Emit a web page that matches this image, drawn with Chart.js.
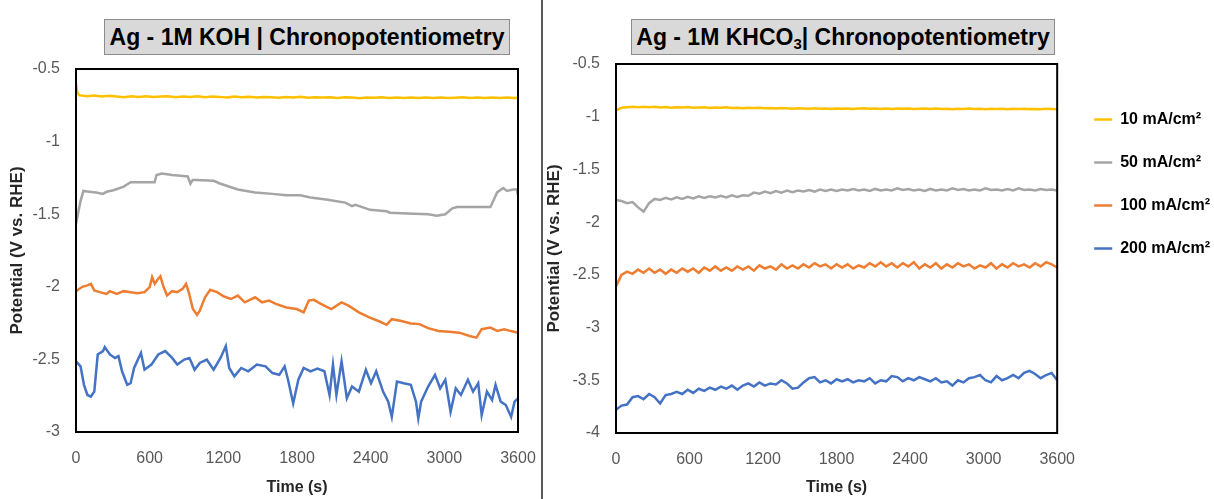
<!DOCTYPE html>
<html>
<head>
<meta charset="utf-8">
<script src="https://cdn.jsdelivr.net/npm/chart.js@4.4.1/dist/chart.umd.min.js"></script>
<style>
  body { margin: 0; width: 1214px; height: 499px; overflow: hidden; background: #fff; position: relative; font-family: "Liberation Sans", Arial, sans-serif; }
  .pane { position: absolute; top: 0; }
  .pane canvas { display: block; }
  .title { position: absolute; top: 19px; height: 36px; box-sizing: border-box; background: #d9d9d9; border: 1px solid #8c8c8c; font-weight: bold; font-size: 23px; line-height: 34px; text-align: center; color: #000; white-space: nowrap; }
  .title sub { font-size: 15px; line-height: 0; vertical-align: -4px; }
  #divider { position: absolute; left: 541px; top: 0; width: 2px; height: 499px; background: #595959; }
</style>
</head>
<body>
<div class="pane" style="left:0"><canvas id="koh" width="541" height="499"></canvas></div>
<div class="pane" style="left:541px"><canvas id="khco3" width="679" height="499"></canvas></div>
<div id="divider"></div>
<div class="title" style="left:104px;width:406px">Ag - 1M KOH | Chronopotentiometry</div>
<div class="title" style="left:631px;width:424px">Ag - 1M KHCO<sub>3</sub>| Chronopotentiometry</div>
<script>
var colors = ['#FFC000', '#A5A5A5', '#ED7D31', '#4472C4'];
var seriesLabels = ['10 mA/cm²', '50 mA/cm²', '100 mA/cm²', '200 mA/cm²'];
var timeTicks = [0, 600, 1200, 1800, 2400, 3000, 3600];

// ---- Ag - 1M KOH (left chart) ----
var kohTime10 = [0, 10, 25, 45, 90, 150, 210, 270, 330, 390, 450, 510, 570, 630, 690, 750, 810, 870, 930, 990, 1050, 1110, 1170, 1230, 1290, 1350, 1410, 1470, 1530, 1590, 1650, 1710, 1770, 1830, 1890, 1950, 2010, 2070, 2130, 2190, 2250, 2310, 2370, 2430, 2490, 2550, 2610, 2670, 2730, 2790, 2850, 2910, 2970, 3030, 3090, 3150, 3210, 3270, 3330, 3390, 3450, 3510, 3570, 3600];
var kohPot10 = [-0.60, -0.66, -0.68, -0.683, -0.688, -0.682, -0.69, -0.685, -0.69, -0.695, -0.688, -0.692, -0.687, -0.693, -0.69, -0.688, -0.695, -0.69, -0.693, -0.688, -0.694, -0.69, -0.692, -0.697, -0.69, -0.695, -0.692, -0.697, -0.693, -0.695, -0.698, -0.693, -0.696, -0.692, -0.698, -0.694, -0.697, -0.695, -0.699, -0.694, -0.697, -0.701, -0.696, -0.698, -0.695, -0.7, -0.697, -0.699, -0.696, -0.7, -0.697, -0.699, -0.696, -0.7, -0.698, -0.695, -0.699, -0.697, -0.7, -0.696, -0.699, -0.697, -0.7, -0.698];

var kohTime50 = [0, 20, 37, 60, 107, 163, 220, 250, 304, 389, 445, 501, 600, 640, 656, 700, 783, 850, 910, 932, 950, 980, 1121, 1177, 1318, 1459, 1600, 1713, 1825, 1910, 2051, 2192, 2248, 2276, 2361, 2395, 2530, 2558, 2700, 2868, 2938, 3008, 3065, 3103, 3375, 3403, 3430, 3479, 3510, 3560, 3590, 3600];
var kohPot50 = [-1.57, -1.48, -1.41, -1.34, -1.345, -1.35, -1.36, -1.345, -1.335, -1.31, -1.28, -1.28, -1.28, -1.28, -1.23, -1.22, -1.23, -1.235, -1.24, -1.29, -1.265, -1.265, -1.27, -1.29, -1.33, -1.35, -1.36, -1.37, -1.37, -1.385, -1.40, -1.42, -1.445, -1.435, -1.46, -1.47, -1.48, -1.49, -1.495, -1.50, -1.51, -1.50, -1.46, -1.45, -1.45, -1.40, -1.35, -1.32, -1.34, -1.33, -1.33, -1.37];

var kohTime100 = [0, 51, 93, 121, 149, 192, 248, 276, 332, 389, 445, 501, 558, 600, 620, 642, 670, 687, 713, 741, 783, 825, 868, 896, 918, 952, 986, 1008, 1051, 1093, 1149, 1206, 1262, 1318, 1375, 1459, 1515, 1572, 1628, 1713, 1797, 1854, 1896, 1938, 1994, 2079, 2163, 2220, 2304, 2389, 2473, 2530, 2572, 2642, 2727, 2797, 2868, 2952, 3037, 3121, 3206, 3262, 3304, 3375, 3431, 3487, 3544, 3600];
var kohPot100 = [-2.03, -2.0, -1.99, -1.98, -2.025, -2.037, -2.049, -2.03, -2.049, -2.03, -2.037, -2.044, -2.037, -2.002, -1.933, -1.98, -1.944, -1.928, -2.0, -2.06, -2.03, -2.037, -2.014, -1.979, -2.037, -2.153, -2.193, -2.165, -2.072, -2.021, -2.037, -2.067, -2.084, -2.06, -2.107, -2.072, -2.107, -2.095, -2.118, -2.142, -2.153, -2.176, -2.095, -2.09, -2.118, -2.153, -2.107, -2.13, -2.176, -2.211, -2.239, -2.262, -2.223, -2.234, -2.253, -2.257, -2.285, -2.304, -2.309, -2.316, -2.339, -2.35, -2.292, -2.281, -2.304, -2.292, -2.305, -2.316];

var kohTime200 = [0, 37, 65, 93, 121, 149, 177, 220, 234, 276, 318, 346, 375, 417, 445, 473, 529, 558, 614, 670, 727, 783, 825, 882, 924, 966, 1008, 1065, 1121, 1177, 1220, 1248, 1290, 1346, 1403, 1473, 1544, 1600, 1656, 1699, 1727, 1769, 1811, 1854, 1910, 1966, 2023, 2065, 2093, 2121, 2163, 2206, 2248, 2304, 2361, 2403, 2445, 2501, 2543, 2572, 2614, 2670, 2727, 2769, 2788, 2811, 2868, 2924, 2966, 3008, 3051, 3093, 3135, 3192, 3234, 3276, 3304, 3347, 3389, 3417, 3459, 3501, 3544, 3572, 3600];
var kohPot200 = [-2.513, -2.548, -2.675, -2.745, -2.756, -2.722, -2.466, -2.443, -2.415, -2.466, -2.49, -2.478, -2.582, -2.675, -2.664, -2.559, -2.455, -2.571, -2.536, -2.466, -2.443, -2.49, -2.536, -2.501, -2.49, -2.571, -2.524, -2.501, -2.571, -2.49, -2.408, -2.559, -2.617, -2.559, -2.582, -2.536, -2.548, -2.594, -2.606, -2.548, -2.64, -2.803, -2.64, -2.559, -2.582, -2.564, -2.582, -2.745, -2.536, -2.745, -2.513, -2.768, -2.687, -2.722, -2.571, -2.664, -2.582, -2.722, -2.791, -2.896, -2.652, -2.664, -2.675, -2.791, -2.907, -2.791, -2.687, -2.606, -2.699, -2.64, -2.861, -2.699, -2.745, -2.64, -2.722, -2.664, -2.884, -2.722, -2.78, -2.675, -2.791, -2.814, -2.896, -2.791, -2.768];

// ---- Ag - 1M KHCO3 (right chart), one reading every 45 s ----
var khco3Time = [0, 45, 90, 135, 180, 225, 270, 315, 360, 405, 450, 495, 540, 585, 630, 675, 720, 765, 810, 855, 900, 945, 990, 1035, 1080, 1125, 1170, 1215, 1260, 1305, 1350, 1395, 1440, 1485, 1530, 1575, 1620, 1665, 1710, 1755, 1800, 1845, 1890, 1935, 1980, 2025, 2070, 2115, 2160, 2205, 2250, 2295, 2340, 2385, 2430, 2475, 2520, 2565, 2610, 2655, 2700, 2745, 2790, 2835, 2880, 2925, 2970, 3015, 3060, 3105, 3150, 3195, 3240, 3285, 3330, 3375, 3420, 3465, 3510, 3555, 3600];
var khco3Pot10 = [-0.94, -0.915, -0.91, -0.905, -0.91, -0.905, -0.91, -0.905, -0.912, -0.908, -0.915, -0.91, -0.912, -0.908, -0.915, -0.912, -0.91, -0.918, -0.912, -0.915, -0.91, -0.918, -0.915, -0.92, -0.915, -0.918, -0.915, -0.92, -0.918, -0.922, -0.918, -0.92, -0.925, -0.92, -0.922, -0.925, -0.92, -0.924, -0.921, -0.926, -0.922, -0.925, -0.921, -0.926, -0.923, -0.92, -0.925, -0.922, -0.926, -0.923, -0.927, -0.922, -0.925, -0.923, -0.927, -0.924, -0.921, -0.926, -0.923, -0.927, -0.924, -0.928, -0.924, -0.926, -0.923, -0.927, -0.925, -0.928, -0.924, -0.927, -0.925, -0.929, -0.925, -0.927, -0.924, -0.928, -0.926, -0.929, -0.925, -0.927, -0.93];
var khco3Pot50 = [-1.79, -1.80, -1.82, -1.81, -1.86, -1.90, -1.82, -1.78, -1.79, -1.77, -1.785, -1.765, -1.78, -1.76, -1.775, -1.755, -1.77, -1.755, -1.765, -1.75, -1.765, -1.745, -1.76, -1.745, -1.75, -1.72, -1.73, -1.71, -1.725, -1.705, -1.72, -1.70, -1.715, -1.70, -1.71, -1.695, -1.71, -1.69, -1.705, -1.69, -1.705, -1.69, -1.70, -1.685, -1.70, -1.69, -1.705, -1.685, -1.70, -1.69, -1.70, -1.68, -1.695, -1.685, -1.70, -1.69, -1.705, -1.685, -1.70, -1.69, -1.70, -1.68, -1.695, -1.685, -1.70, -1.69, -1.70, -1.68, -1.695, -1.69, -1.70, -1.685, -1.70, -1.68, -1.695, -1.69, -1.70, -1.685, -1.695, -1.69, -1.70];
var khco3Pot100 = [-2.61, -2.50, -2.47, -2.49, -2.45, -2.48, -2.44, -2.48, -2.45, -2.49, -2.45, -2.48, -2.44, -2.47, -2.44, -2.48, -2.43, -2.46, -2.42, -2.46, -2.43, -2.46, -2.42, -2.45, -2.42, -2.46, -2.41, -2.44, -2.42, -2.45, -2.40, -2.44, -2.41, -2.44, -2.40, -2.43, -2.39, -2.42, -2.40, -2.44, -2.40, -2.43, -2.40, -2.44, -2.41, -2.43, -2.39, -2.42, -2.38, -2.42, -2.39, -2.43, -2.39, -2.42, -2.38, -2.44, -2.40, -2.43, -2.39, -2.44, -2.40, -2.43, -2.39, -2.42, -2.40, -2.44, -2.41, -2.43, -2.39, -2.44, -2.40, -2.43, -2.39, -2.42, -2.40, -2.43, -2.39, -2.42, -2.38, -2.40, -2.43];
var khco3Pot200 = [-3.78, -3.74, -3.73, -3.66, -3.65, -3.68, -3.63, -3.66, -3.72, -3.64, -3.63, -3.61, -3.63, -3.59, -3.62, -3.58, -3.60, -3.57, -3.59, -3.56, -3.58, -3.55, -3.59, -3.55, -3.53, -3.56, -3.52, -3.55, -3.53, -3.54, -3.50, -3.53, -3.58, -3.57, -3.52, -3.48, -3.47, -3.52, -3.50, -3.53, -3.49, -3.51, -3.49, -3.52, -3.50, -3.51, -3.48, -3.53, -3.50, -3.51, -3.46, -3.47, -3.51, -3.48, -3.50, -3.47, -3.49, -3.51, -3.48, -3.52, -3.51, -3.55, -3.50, -3.52, -3.48, -3.47, -3.45, -3.50, -3.52, -3.46, -3.50, -3.48, -3.45, -3.48, -3.43, -3.41, -3.44, -3.48, -3.45, -3.43, -3.50];

function toPoints(times, values) {
    return times.map(function (t, i) { return { x: t, y: values[i] }; });
}

function makeDataset(i, times, values) {
    return {
        label: seriesLabels[i],
        data: toPoints(times, values),
        borderColor: colors[i],
        backgroundColor: colors[i],
        borderWidth: 2.5,
        pointRadius: 0,
        tension: 0
    };
}

// black box round the plot area
var plotFrame = {
    id: 'plotFrame',
    afterDatasetsDraw: function (chart) {
        var a = chart.chartArea, ctx = chart.ctx;
        ctx.save();
        ctx.strokeStyle = '#000';
        ctx.lineWidth = 2;
        ctx.strokeRect(a.left, a.top, a.right - a.left, a.bottom - a.top);
        ctx.restore();
    }
};

function makeScales(yMin, yMax, yWidth, xHeight, yTitlePad) {
    return {
        x: {
            type: 'linear', min: 0, max: 3600,
            grid: { display: false, drawTicks: false },
            border: { display: false },
            afterBuildTicks: function (scale) { scale.ticks = timeTicks.map(function (v) { return { value: v }; }); },
            ticks: { color: '#595959', font: { size: 16 }, padding: 17, maxRotation: 0, autoSkip: false,
                     callback: function (v) { return String(v); } },
            title: { display: true, text: 'Time (s)', color: '#262626', font: { size: 16, weight: 'bold' }, padding: { top: 0, bottom: 2 } },
            afterFit: function (scale) {
                scale.height = xHeight;
                // let layout.padding decide the side margins
                scale.paddingLeft = 0;
                scale.paddingRight = 0;
            }
        },
        y: {
            min: yMin, max: yMax,
            grid: { display: false, drawTicks: false },
            border: { display: false },
            ticks: { stepSize: 0.5, color: '#595959', font: { size: 16 }, padding: 16,
                     callback: function (v) { return String(v); } },
            title: { display: true, text: 'Potential (V vs. RHE)', color: '#262626', font: { size: 17, weight: 'bold' }, padding: { top: yTitlePad, bottom: 0 } },
            afterFit: function (scale) { scale.width = yWidth; }
        }
    };
}

Chart.defaults.font.family = '"Liberation Sans", Arial, sans-serif';

var kohChart = new Chart(document.getElementById('koh'), {
    type: 'line',
    data: {
        datasets: [
            makeDataset(0, kohTime10, kohPot10),
            makeDataset(1, kohTime50, kohPot50),
            makeDataset(2, kohTime100, kohPot100),
            makeDataset(3, kohTime200, kohPot200)
        ]
    },
    options: {
        responsive: false,
        animation: false,
        layout: { padding: { top: 69, right: 23, bottom: 0, left: 0 } },
        plugins: { legend: { display: false }, tooltip: { enabled: false } },
        scales: makeScales(-3, -0.5, 76, 67, 7)
    },
    plugins: [plotFrame]
});

var khco3Scales = makeScales(-4, -0.5, 75, 66, 3);
// empty strip between the plot and the legend
khco3Scales.gap = {
    position: 'right',
    grid: { display: false, drawTicks: false },
    border: { display: false },
    ticks: { display: false },
    afterFit: function (scale) { scale.width = 10; }
};

var khco3Chart = new Chart(document.getElementById('khco3'), {
    type: 'line',
    data: {
        datasets: [
            makeDataset(0, khco3Time, khco3Pot10),
            makeDataset(1, khco3Time, khco3Pot50),
            makeDataset(2, khco3Time, khco3Pot100),
            makeDataset(3, khco3Time, khco3Pot200)
        ]
    },
    options: {
        responsive: false,
        animation: false,
        layout: { padding: { top: 64, right: 0, bottom: 0, left: 0 } },
        plugins: {
            legend: {
                display: true,
                position: 'right',
                align: 'start',
                maxWidth: 200,
                title: { display: true, text: '', padding: { top: 6, bottom: 0 }, font: { size: 12 } },
                labels: { usePointStyle: true, pointStyle: 'line', pointStyleWidth: 18, padding: 27,
                          color: '#000', font: { size: 16, weight: 'bold' } }
            },
            tooltip: { enabled: false }
        },
        scales: khco3Scales
    },
    plugins: [plotFrame]
});
</script>
</body>
</html>
